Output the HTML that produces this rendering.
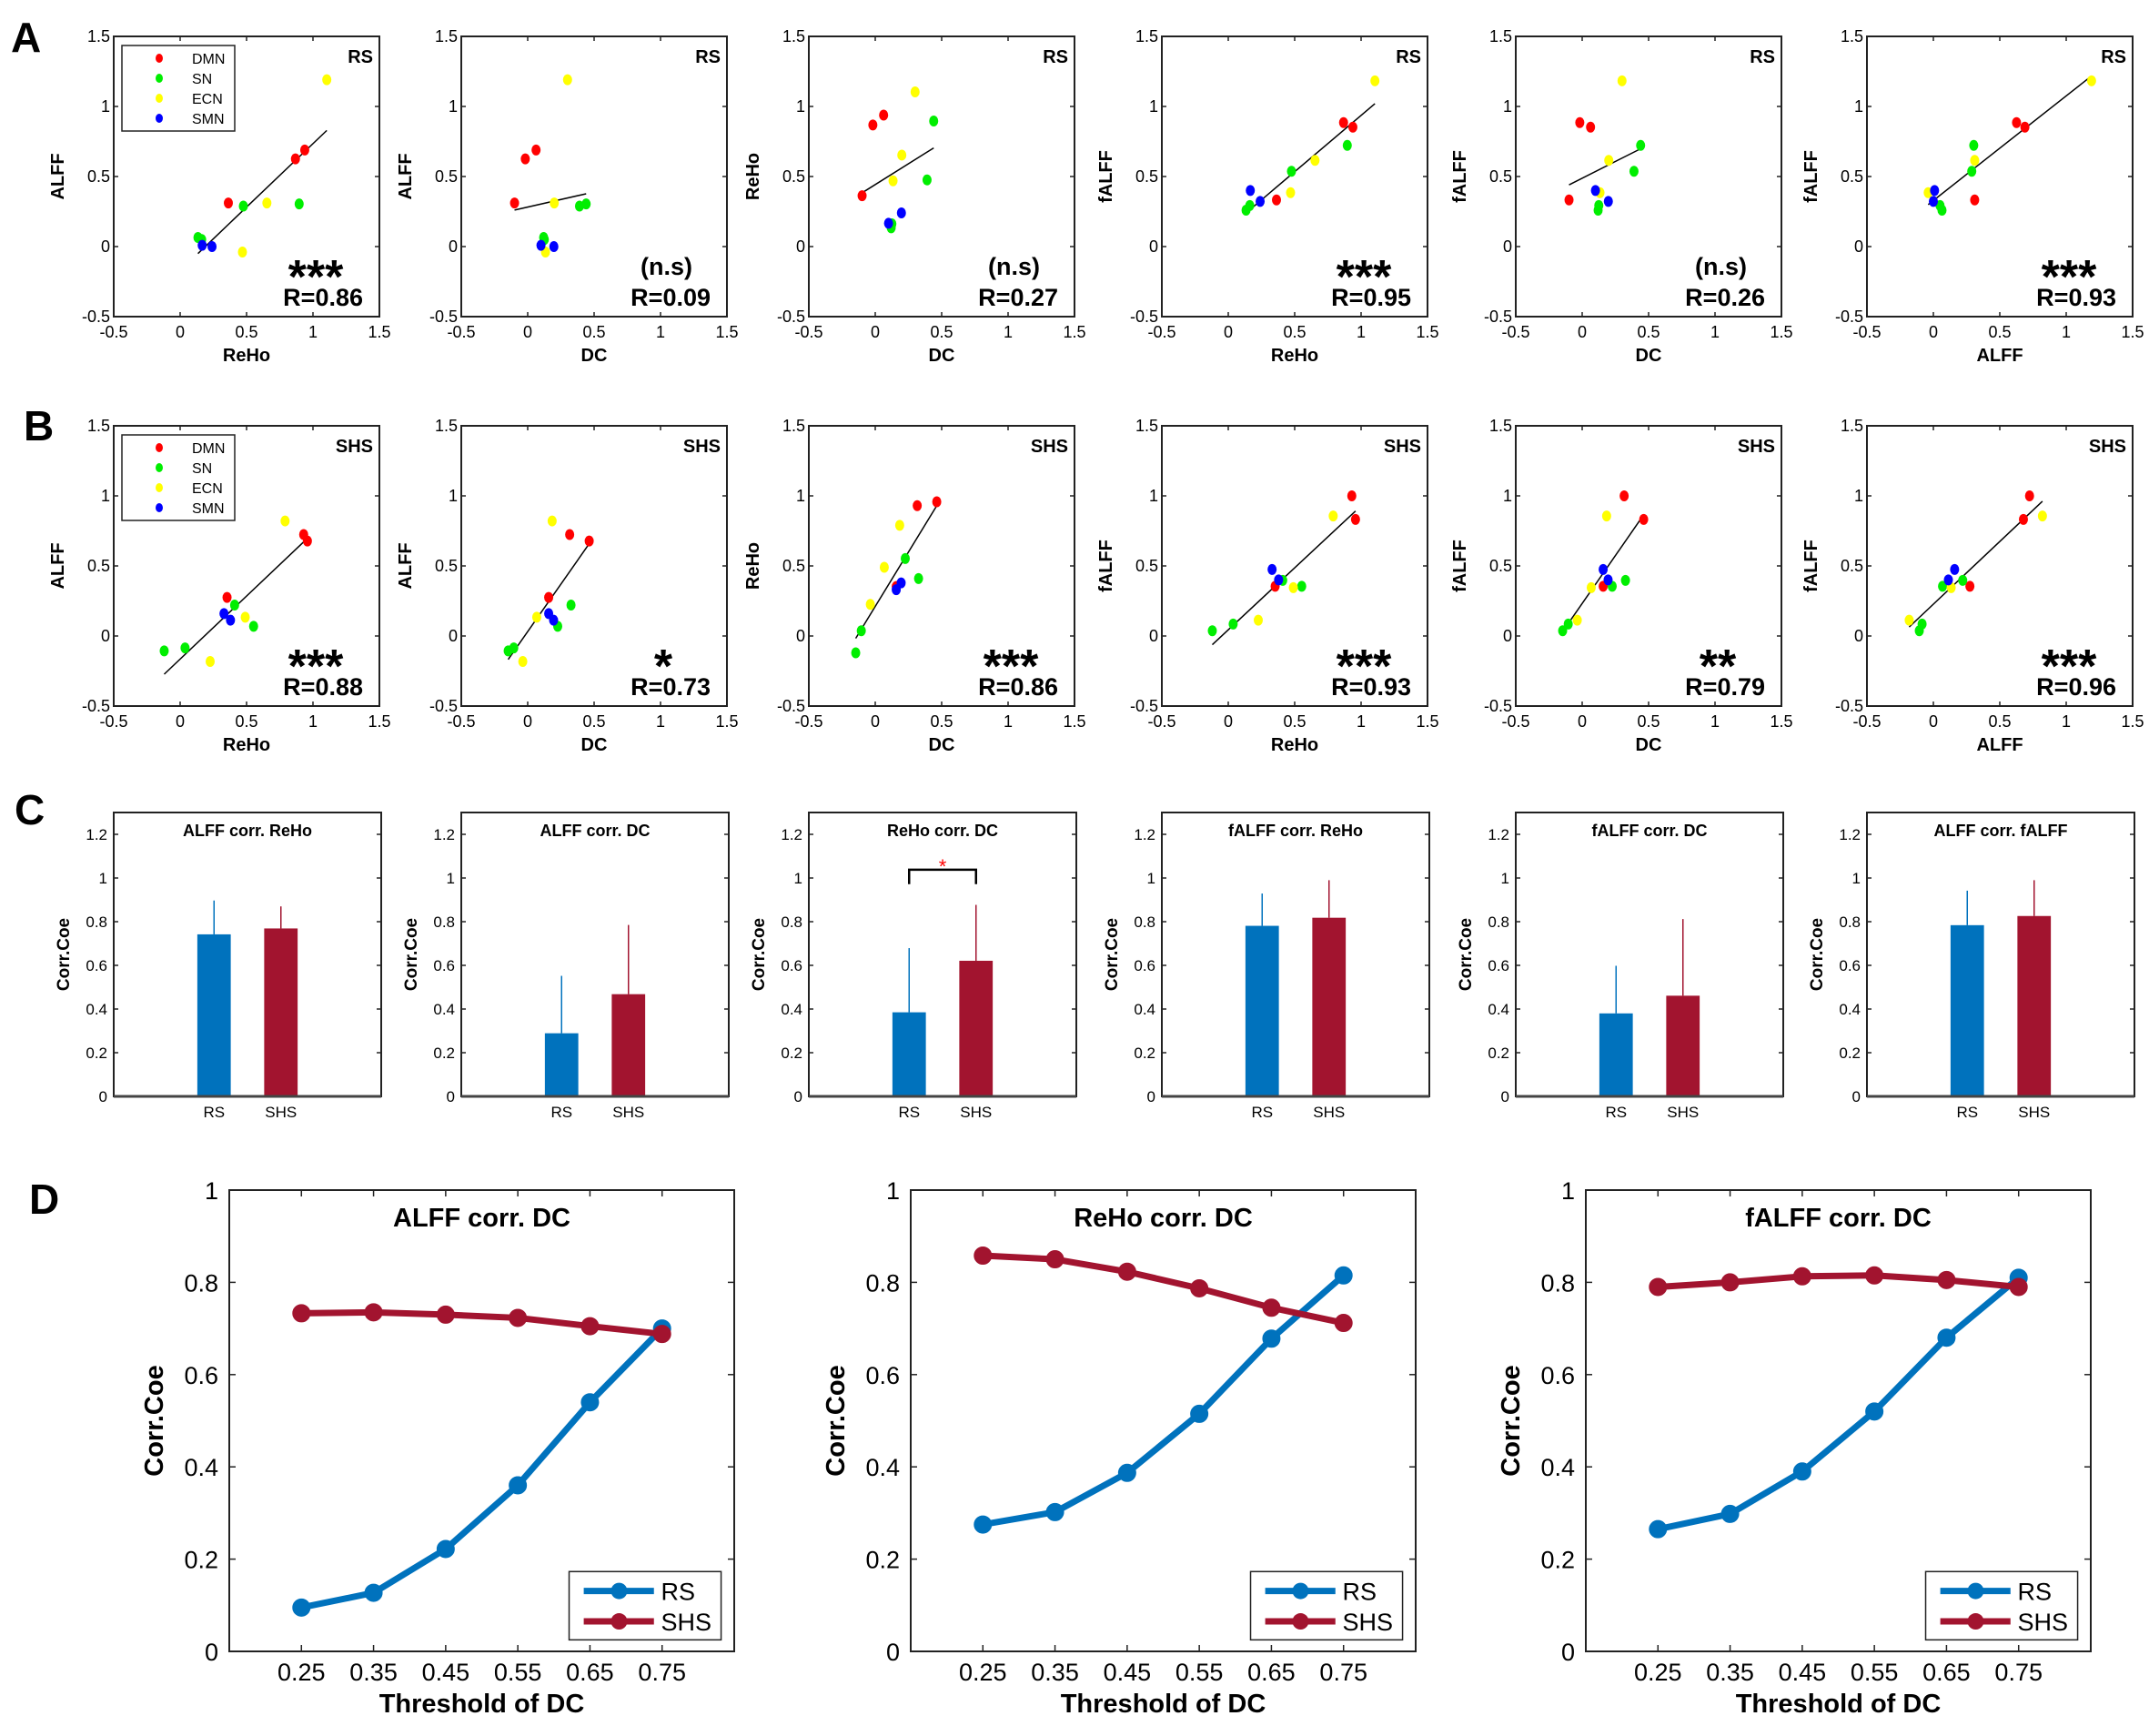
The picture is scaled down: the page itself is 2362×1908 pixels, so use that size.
<!DOCTYPE html>
<html><head><meta charset="utf-8"><style>
html,body{margin:0;padding:0;background:#fff;}
svg{display:block;font-family:"Liberation Sans",Arial,sans-serif;}
</style></head><body>
<svg id="fig" xmlns="http://www.w3.org/2000/svg" width="2362" height="1908" viewBox="0 0 2362 1908">
<rect width="2362" height="1908" fill="#fff"/>
<text x="12" y="57" font-size="46" font-weight="bold">A</text>
<text x="26" y="484" font-size="46" font-weight="bold">B</text>
<text x="16" y="906" font-size="46" font-weight="bold">C</text>
<text x="32" y="1334" font-size="46" font-weight="bold">D</text>
</svg>
<script>
// ---------- data ----------
const networks = ["DMN","DMN","DMN","SN","SN","SN","SN","ECN","ECN","ECN","SMN","SMN"];
const netNames = ["DMN","SN","ECN","SMN"];
const netColors = {DMN:"#ff0000",SN:"#00ee00",ECN:"#ffff00",SMN:"#0000ff"};
const rsReho  = [0.363,0.868,0.938, 0.134,0.162,0.476,0.896, 1.104,0.653,0.469, 0.166,0.24];
const rsAlff  = [0.311,0.626,0.689, 0.065,0.05,0.289,0.304, 1.191,0.311,-0.039, 0.009,0.0];
const rsDc    = [-0.099,-0.018,0.063, 0.12,0.125,0.39,0.44, 0.30,0.20,0.134, 0.10,0.197];
const rsFalff = [0.333,0.885,0.852, 0.26,0.293,0.537,0.722, 1.183,0.615,0.385, 0.40,0.322];
const shsReho  = [0.353,0.93,0.958, -0.12,0.037,0.41,0.553, 0.79,0.49,0.226, 0.33,0.379];
const shsAlff  = [0.275,0.724,0.678, -0.106,-0.085,0.221,0.069, 0.821,0.134,-0.182, 0.16,0.113];
const shsDc    = [0.158,0.316,0.463, -0.147,-0.105,0.326,0.226, 0.184,0.068,-0.037, 0.158,0.195];
const shsFalff = [0.355,1.0,0.832, 0.037,0.085,0.397,0.355, 0.856,0.345,0.113, 0.475,0.4];
const scatterTicks = [-0.5,0,0.5,1,1.5];
const scatterTickLabels = ["-0.5","0","0.5","1","1.5"];
const rsStars = ["***","(n.s)","(n.s)","***","(n.s)","***"];
const rsR = ["R=0.86","R=0.09","R=0.27","R=0.95","R=0.26","R=0.93"];
const shsStars = ["***","*","***","***","**","***"];
const shsR = ["R=0.88","R=0.73","R=0.86","R=0.93","R=0.79","R=0.96"];

const cTitles = ["ALFF corr. ReHo","ALFF corr. DC","ReHo corr. DC","fALFF corr. ReHo","fALFF corr. DC","ALFF corr. fALFF"];
const cCategories = ["RS","SHS"];
const cRsMean = [0.742,0.289,0.385,0.781,0.380,0.784];
const cRsErrTop = [0.897,0.552,0.679,0.929,0.598,0.942];
const cShsMean = [0.769,0.468,0.621,0.818,0.461,0.826];
const cShsErrTop = [0.870,0.785,0.877,0.990,0.812,0.990];
const cTicks = [0,0.2,0.4,0.6,0.8,1,1.2];
const cTickLabels = ["0","0.2","0.4","0.6","0.8","1","1.2"];

const dThresholds = [0.25,0.35,0.45,0.55,0.65,0.75];
const dTickLabels = ["0.25","0.35","0.45","0.55","0.65","0.75"];
const dTitles = ["ALFF corr. DC","ReHo corr. DC","fALFF corr. DC"];
const d1Rs  = [0.095,0.127,0.222,0.360,0.540,0.700];
const d1Shs = [0.733,0.735,0.730,0.723,0.705,0.688];
const d2Rs  = [0.275,0.302,0.387,0.515,0.678,0.815];
const d2Shs = [0.858,0.850,0.823,0.787,0.745,0.712];
const d3Rs  = [0.265,0.298,0.390,0.520,0.680,0.810];
const d3Shs = [0.790,0.800,0.813,0.815,0.805,0.790];
const dYTicks = [0,0.2,0.4,0.6,0.8,1];
const dYTickLabels = ["0","0.2","0.4","0.6","0.8","1"];

// ---------- helpers ----------
const NS="http://www.w3.org/2000/svg";
const svg=document.getElementById("fig");
function mk(tag, attrs, parent){
  const e=document.createElementNS(NS,tag);
  for(const k in attrs) e.setAttribute(k,attrs[k]);
  (parent||svg).appendChild(e);
  return e;
}
function txt(parent, s, x, y, size, opts){
  opts=opts||{};
  const t=mk("text",{x:x,y:y,"font-size":size,"text-anchor":opts.anchor||"start","font-weight":opts.bold?"bold":"normal",fill:opts.fill||"#000"},parent);
  if(opts.rot) t.setAttribute("transform","rotate(-90 "+x+" "+y+")");
  t.textContent=s;
  return t;
}
function frame(g,L,T,W,H){
  const r=mk("rect",{x:L,y:T,width:W,height:H,fill:"none",stroke:"#222","stroke-width":2},g);
  
  
}
function fit(xs,ys){
  const n=xs.length; let mx=0,my=0;
  for(let i=0;i<n;i++){mx+=xs[i];my+=ys[i];}
  mx/=n;my/=n; let sxy=0,sxx=0;
  for(let i=0;i<n;i++){sxy+=(xs[i]-mx)*(ys[i]-my);sxx+=(xs[i]-mx)*(xs[i]-mx);}
  const b=sxy/sxx; return [b,my-b*mx];
}

// ---------- scatter panels ----------
const scLefts=[125,507,889,1277,1666,2052];
const scW=292;
const scatterDefs=[["alff","reho","ALFF","ReHo"],["alff","dc","ALFF","DC"],["reho","dc","ReHo","DC"],["falff","reho","fALFF","ReHo"],["falff","dc","fALFF","DC"],["falff","alff","fALFF","ALFF"]];
const rsSet={reho:rsReho,alff:rsAlff,dc:rsDc,falff:rsFalff};
const shsSet={reho:shsReho,alff:shsAlff,dc:shsDc,falff:shsFalff};

function scatterRow(set, cond, T, B, stars, rs, rowName){
  const H=B-T;
  for(let p=0;p<6;p++){
    const L=scLefts[p], W=scW, def=scatterDefs[p];
    const ys=set[def[0]], xs=set[def[1]];
    const g=mk("g",{});
    
    
    const sx=v=>L+(v+0.5)/2*W, sy=v=>B-(v+0.5)/2*H;
    frame(g,L,T,W,H);
    scatterTicks.forEach((t,i)=>{
      mk("line",{x1:sx(t),x2:sx(t),y1:B,y2:B-5,stroke:"#222","stroke-width":1.5},g);
      mk("line",{x1:sx(t),x2:sx(t),y1:T,y2:T+5,stroke:"#222","stroke-width":1.5},g);
      mk("line",{x1:L,x2:L+5,y1:sy(t),y2:sy(t),stroke:"#222","stroke-width":1.5},g);
      mk("line",{x1:L+W,x2:L+W-5,y1:sy(t),y2:sy(t),stroke:"#222","stroke-width":1.5},g);
      const xl=txt(g,scatterTickLabels[i],sx(t),B+23,18,{anchor:"middle"});
      
      
      const yl=txt(g,scatterTickLabels[i],L-4,sy(t)+6,18,{anchor:"end"});
      
      
    });
    const xt=txt(g,def[3],L+W/2,B+49,20,{anchor:"middle",bold:true});
    
    
    const yt=txt(g,def[2],L-55,T+H/2,20,{anchor:"middle",bold:true,rot:true});
    
    
    // regression line
    const f=fit(xs,ys); const x0=Math.min(...xs), x1=Math.max(...xs);
    const ln=mk("line",{x1:sx(x0),y1:sy(f[1]+f[0]*x0),x2:sx(x1),y2:sy(f[1]+f[0]*x1),stroke:"#000","stroke-width":1.5},g);
    
    
    for(let i=0;i<xs.length;i++){
      const c=mk("ellipse",{cx:sx(xs[i]),cy:sy(ys[i]),rx:5,ry:6,fill:netColors[networks[i]]},g);
      
      
    }
    const cl=txt(g,cond,L+W-7,T+29,20,{anchor:"end",bold:true});
    
    
    const st=stars[p];
    let stEl;
    if(st.charAt(0)==="*") stEl=txt(g,st,L+W-70,T+282,52,{anchor:"middle",bold:true});
    else stEl=txt(g,st,L+W-38,T+262,27,{anchor:"end",bold:true});
    
    
    const rl=txt(g,rs[p],L+W-18,T+296,27,{anchor:"end",bold:true});
    
    
    if(p===0){
      const lg=mk("g",{},g);
      
      
      mk("rect",{x:L+9,y:T+10,width:124,height:94,fill:"#fff",stroke:"#222","stroke-width":1.5},lg);
      netNames.forEach((n,k)=>{
        const yy=T+24+k*22;
        const m=mk("ellipse",{cx:L+50,cy:yy,rx:4,ry:5,fill:netColors[n]},lg);
        
        
        const lt=txt(lg,n,L+86,yy+6,16,{});
        
        
      });
    }
  }
}
scatterRow(rsSet,"RS",40,348,rsStars,rsR,"rs");
scatterRow(shsSet,"SHS",468,776,shsStars,shsR,"shs");

// ---------- bar panels ----------
(function(){
  const T=893,B=1205,H=B-T,W=294;
  for(let p=0;p<6;p++){
    const L=scLefts[p];
    const g=mk("g",{});
    
    
    const sx=v=>L+(v+0.5)/4*W, sy=v=>B-v/1.3*H;
    frame(g,L,T,W,H);
    cTicks.forEach((t,i)=>{
      mk("line",{x1:L,x2:L+5,y1:sy(t),y2:sy(t),stroke:"#222","stroke-width":1.5},g);
      mk("line",{x1:L+W,x2:L+W-5,y1:sy(t),y2:sy(t),stroke:"#222","stroke-width":1.5},g);
      const yl=txt(g,cTickLabels[i],L-7,sy(t)+6,17,{anchor:"end"});
      
      
    });
    const means=[cRsMean[p],cShsMean[p]], errs=[cRsErrTop[p],cShsErrTop[p]], cols=["#0072bd","#a2142f"];
    for(let k=0;k<2;k++){
      const cx=sx(k+1);
      const er=mk("line",{x1:cx,x2:cx,y1:sy(means[k]),y2:sy(errs[k]),stroke:cols[k],"stroke-width":1.5},g);
      
      
      const b=mk("rect",{x:cx-W/16,y:sy(means[k]),width:W/8,height:sy(0)-sy(means[k]),fill:cols[k]},g);
      
      
      const xl=txt(g,cCategories[k],cx,B+23,17,{anchor:"middle"});
      
      
    }
    mk("line",{x1:L,x2:L+W,y1:B,y2:B,stroke:"#444","stroke-width":3},g);
    const tt=txt(g,cTitles[p],L+W/2,T+26,18,{anchor:"middle",bold:true});
    
    
    const yt=txt(g,"Corr.Coe",L-49,T+H/2,19,{anchor:"middle",bold:true,rot:true});
    
    
    if(p===2){
      const br=mk("polyline",{points:(sx(1))+","+sy(0.972)+" "+sx(1)+","+sy(1.038)+" "+sx(2)+","+sy(1.038)+" "+sx(2)+","+sy(0.972),fill:"none",stroke:"#000","stroke-width":2.5},g);
      
      
      const s=txt(g,"*",(sx(1)+sx(2))/2,sy(1.062)+10,22,{anchor:"middle",fill:"#ff0000"});
      
      
    }
  }
})();

// ---------- line panels ----------
(function(){
  const lefts=[252,1001,1743], W=555, T=1308, B=1815, H=B-T;
  const rsSeries=[d1Rs,d2Rs,d3Rs], shsSeries=[d1Shs,d2Shs,d3Shs];
  const cols={RS:"#0072bd",SHS:"#a2142f"};
  for(let p=0;p<3;p++){
    const L=lefts[p];
    const g=mk("g",{});
    
    
    const sx=v=>L+(v-0.15)/0.7*W, sy=v=>B-v*H;
    frame(g,L,T,W,H);
    dYTicks.forEach((t,i)=>{
      mk("line",{x1:L,x2:L+7,y1:sy(t),y2:sy(t),stroke:"#222","stroke-width":1.5},g);
      mk("line",{x1:L+W,x2:L+W-7,y1:sy(t),y2:sy(t),stroke:"#222","stroke-width":1.5},g);
      const yl=txt(g,dYTickLabels[i],L-12,sy(t)+10,27,{anchor:"end"});
      
      
    });
    dThresholds.forEach((t,i)=>{
      mk("line",{x1:sx(t),x2:sx(t),y1:B,y2:B-7,stroke:"#222","stroke-width":1.5},g);
      mk("line",{x1:sx(t),x2:sx(t),y1:T,y2:T+7,stroke:"#222","stroke-width":1.5},g);
      const xl=txt(g,dTickLabels[i],sx(t),B+32,27,{anchor:"middle"});
      
      
    });
    [["RS",rsSeries[p]],["SHS",shsSeries[p]]].forEach(s=>{
      const pts=dThresholds.map((t,i)=>sx(t)+","+sy(s[1][i])).join(" ");
      const pl=mk("polyline",{points:pts,fill:"none",stroke:cols[s[0]],"stroke-width":7,"stroke-linejoin":"round"},g);
      
      
      dThresholds.forEach((t,i)=>{
        const c=mk("circle",{cx:sx(t),cy:sy(s[1][i]),r:8,fill:cols[s[0]],stroke:cols[s[0]],"stroke-width":4},g);
        
        
      });
    });
    const tt=txt(g,dTitles[p],L+W/2,T+40,29,{anchor:"middle",bold:true});
    
    
    const xt=txt(g,"Threshold of DC",L+W/2,B+67,29,{anchor:"middle",bold:true});
    
    
    const yt=txt(g,"Corr.Coe",L-73,T+H/2,29,{anchor:"middle",bold:true,rot:true});
    
    
    const lg=mk("g",{},g);
    
    
    mk("rect",{x:L+0.673*W,y:T+0.827*H,width:0.301*W,height:0.148*H,fill:"#fff",stroke:"#222","stroke-width":1.5},lg);
    [["RS",0.869],["SHS",0.935]].forEach(e=>{
      const yy=T+e[1]*H;
      mk("line",{x1:L+0.702*W,x2:L+0.841*W,y1:yy,y2:yy,stroke:cols[e[0]],"stroke-width":7},lg);
      mk("circle",{cx:L+0.772*W,cy:yy,r:9,fill:cols[e[0]]},lg);
      const lt=txt(lg,e[0],L+0.855*W,yy+10,27,{});
      
      
    });
  }
})();
</script>
</body></html>
